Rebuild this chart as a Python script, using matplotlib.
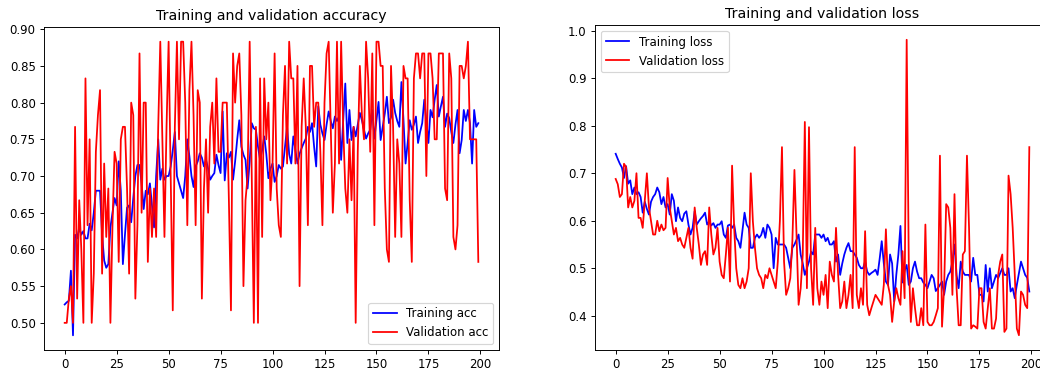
import numpy as np
import matplotlib
matplotlib.use("Agg")
import matplotlib.pyplot as plt

# Historique d'entrainement (200 epochs)
acc = [
    0.525, 0.528, 0.530, 0.571, 0.483, 0.620, 0.615, 0.630, 0.620, 0.625,
    0.615, 0.615, 0.635, 0.626, 0.650, 0.680, 0.680, 0.680, 0.620, 0.585,
    0.575, 0.580, 0.630, 0.650, 0.670, 0.660, 0.720, 0.680, 0.580, 0.620,
    0.657, 0.660, 0.637, 0.670, 0.700, 0.715, 0.715, 0.690, 0.655, 0.680,
    0.675, 0.690, 0.660, 0.630, 0.700, 0.750, 0.695, 0.710, 0.695, 0.700,
    0.700, 0.713, 0.735, 0.760, 0.700, 0.690, 0.680, 0.670, 0.700, 0.750,
    0.727, 0.700, 0.685, 0.713, 0.720, 0.731, 0.725, 0.713, 0.722, 0.710,
    0.695, 0.700, 0.704, 0.729, 0.715, 0.704, 0.788, 0.694, 0.731, 0.725,
    0.733, 0.695, 0.720, 0.750, 0.776, 0.740, 0.729, 0.722, 0.683, 0.720,
    0.772, 0.765, 0.763, 0.740, 0.722, 0.735, 0.754, 0.730, 0.697, 0.710,
    0.717, 0.692, 0.700, 0.715, 0.710, 0.713, 0.740, 0.767, 0.730, 0.717,
    0.754, 0.735, 0.717, 0.730, 0.738, 0.745, 0.751, 0.767, 0.760, 0.772,
    0.740, 0.713, 0.795, 0.770, 0.758, 0.749, 0.770, 0.788, 0.775, 0.765,
    0.781, 0.775, 0.781, 0.722, 0.776, 0.826, 0.745, 0.790, 0.749, 0.767,
    0.754, 0.770, 0.786, 0.776, 0.763, 0.751, 0.758, 0.763, 0.790, 0.751,
    0.776, 0.801, 0.749, 0.767, 0.785, 0.808, 0.772, 0.780, 0.804, 0.786,
    0.775, 0.767, 0.828, 0.776, 0.717, 0.745, 0.776, 0.763, 0.770, 0.781,
    0.745, 0.760, 0.772, 0.804, 0.775, 0.745, 0.790, 0.780, 0.804, 0.824,
    0.781, 0.795, 0.808, 0.767, 0.785, 0.779, 0.760, 0.745, 0.770, 0.790,
    0.731, 0.749, 0.790, 0.775, 0.790, 0.772, 0.717, 0.790, 0.767, 0.772,
]

val_acc = [
    0.500, 0.500, 0.533, 0.550, 0.500, 0.767, 0.533, 0.667, 0.600, 0.500,
    0.833, 0.633, 0.750, 0.500, 0.567, 0.733, 0.783, 0.817, 0.567, 0.717,
    0.617, 0.683, 0.500, 0.633, 0.733, 0.717, 0.583, 0.750, 0.767, 0.767,
    0.683, 0.567, 0.800, 0.783, 0.533, 0.633, 0.867, 0.650, 0.800, 0.800,
    0.583, 0.683, 0.617, 0.683, 0.617, 0.767, 0.883, 0.750, 0.617, 0.767,
    0.883, 0.700, 0.517, 0.767, 0.883, 0.750, 0.883, 0.883, 0.800, 0.633,
    0.817, 0.883, 0.783, 0.633, 0.817, 0.800, 0.533, 0.683, 0.750, 0.650,
    0.767, 0.800, 0.717, 0.833, 0.733, 0.733, 0.800, 0.800, 0.800, 0.667,
    0.517, 0.867, 0.800, 0.850, 0.867, 0.783, 0.550, 0.667, 0.700, 0.883,
    0.700, 0.500, 0.767, 0.500, 0.833, 0.617, 0.833, 0.750, 0.800, 0.667,
    0.717, 0.867, 0.683, 0.633, 0.617, 0.783, 0.850, 0.717, 0.883, 0.833,
    0.833, 0.717, 0.850, 0.550, 0.767, 0.833, 0.767, 0.633, 0.850, 0.850,
    0.767, 0.800, 0.800, 0.733, 0.633, 0.800, 0.867, 0.883, 0.767, 0.650,
    0.717, 0.883, 0.717, 0.883, 0.767, 0.683, 0.650, 0.750, 0.667, 0.767,
    0.500, 0.733, 0.850, 0.783, 0.750, 0.883, 0.833, 0.733, 0.867, 0.633,
    0.883, 0.883, 0.850, 0.850, 0.683, 0.600, 0.583, 0.850, 0.767, 0.617,
    0.750, 0.717, 0.617, 0.850, 0.833, 0.833, 0.667, 0.583, 0.833, 0.867,
    0.867, 0.833, 0.867, 0.867, 0.700, 0.867, 0.867, 0.833, 0.750, 0.750,
    0.867, 0.867, 0.867, 0.683, 0.667, 0.867, 0.833, 0.617, 0.600, 0.633,
    0.850, 0.850, 0.833, 0.850, 0.883, 0.750, 0.750, 0.750, 0.750, 0.583,
]

loss = [
    0.741, 0.730, 0.720, 0.712, 0.690, 0.715, 0.678, 0.685, 0.656, 0.670,
    0.656, 0.660, 0.650, 0.617, 0.640, 0.625, 0.613, 0.640, 0.650, 0.656,
    0.670, 0.660, 0.635, 0.650, 0.628, 0.635, 0.613, 0.656, 0.642, 0.599,
    0.628, 0.606, 0.599, 0.615, 0.620, 0.592, 0.571, 0.585, 0.620, 0.592,
    0.599, 0.605, 0.610, 0.617, 0.592, 0.599, 0.590, 0.595, 0.585, 0.592,
    0.592, 0.599, 0.571, 0.564, 0.590, 0.592, 0.585, 0.592, 0.564, 0.557,
    0.543, 0.580, 0.617, 0.592, 0.585, 0.543, 0.543, 0.564, 0.571, 0.564,
    0.570, 0.585, 0.564, 0.592, 0.585, 0.571, 0.500, 0.564, 0.550, 0.550,
    0.550, 0.550, 0.543, 0.522, 0.500, 0.543, 0.550, 0.560, 0.571, 0.529,
    0.510, 0.486, 0.500, 0.514, 0.535, 0.529, 0.571, 0.571, 0.571, 0.564,
    0.571, 0.557, 0.564, 0.550, 0.550, 0.557, 0.514, 0.529, 0.486, 0.510,
    0.529, 0.543, 0.553, 0.536, 0.536, 0.529, 0.522, 0.507, 0.500, 0.500,
    0.514, 0.493, 0.486, 0.490, 0.493, 0.497, 0.486, 0.520, 0.557, 0.510,
    0.472, 0.465, 0.529, 0.510, 0.430, 0.486, 0.529, 0.589, 0.470, 0.495,
    0.507, 0.465, 0.472, 0.500, 0.514, 0.493, 0.479, 0.479, 0.470, 0.465,
    0.458, 0.472, 0.486, 0.479, 0.452, 0.458, 0.465, 0.472, 0.444, 0.472,
    0.486, 0.493, 0.514, 0.550, 0.486, 0.458, 0.514, 0.493, 0.486, 0.486,
    0.486, 0.472, 0.522, 0.486, 0.486, 0.444, 0.444, 0.430, 0.507, 0.451,
    0.500, 0.458, 0.472, 0.486, 0.479, 0.490, 0.500, 0.486, 0.486, 0.500,
    0.451, 0.458, 0.437, 0.465, 0.490, 0.514, 0.500, 0.486, 0.480, 0.451,
]

val_loss = [
    0.688, 0.677, 0.650, 0.656, 0.720, 0.713, 0.628, 0.650, 0.628, 0.642,
    0.700, 0.606, 0.606, 0.585, 0.642, 0.700, 0.628, 0.600, 0.571, 0.571,
    0.600, 0.578, 0.592, 0.580, 0.585, 0.690, 0.628, 0.599, 0.571, 0.585,
    0.557, 0.564, 0.550, 0.543, 0.564, 0.585, 0.543, 0.520, 0.628, 0.585,
    0.550, 0.507, 0.529, 0.536, 0.507, 0.628, 0.571, 0.529, 0.543, 0.585,
    0.514, 0.486, 0.479, 0.529, 0.585, 0.472, 0.716, 0.585, 0.500, 0.465,
    0.458, 0.479, 0.458, 0.472, 0.500, 0.700, 0.599, 0.543, 0.500, 0.486,
    0.479, 0.458, 0.486, 0.479, 0.500, 0.486, 0.472, 0.458, 0.514, 0.600,
    0.755, 0.514, 0.444, 0.458, 0.479, 0.557, 0.707, 0.571, 0.423, 0.458,
    0.529, 0.808, 0.458, 0.797, 0.500, 0.423, 0.585, 0.458, 0.423, 0.472,
    0.444, 0.486, 0.416, 0.514, 0.486, 0.472, 0.585, 0.486, 0.416, 0.430,
    0.472, 0.416, 0.444, 0.486, 0.416, 0.755, 0.444, 0.416, 0.458, 0.423,
    0.578, 0.423, 0.401, 0.416, 0.430, 0.444, 0.437, 0.430, 0.423, 0.465,
    0.582, 0.465, 0.444, 0.387, 0.430, 0.458, 0.437, 0.423, 0.536, 0.437,
    0.981, 0.514, 0.387, 0.458, 0.416, 0.380, 0.380, 0.416, 0.380, 0.592,
    0.387, 0.380, 0.380, 0.387, 0.401, 0.416, 0.737, 0.377, 0.458, 0.635,
    0.628, 0.585, 0.444, 0.656, 0.458, 0.380, 0.380, 0.529, 0.536, 0.737,
    0.585, 0.373, 0.380, 0.377, 0.373, 0.458, 0.458, 0.387, 0.373, 0.416,
    0.458, 0.373, 0.373, 0.394, 0.486, 0.514, 0.529, 0.366, 0.373, 0.695,
    0.656, 0.585, 0.486, 0.373, 0.359, 0.451, 0.444, 0.423, 0.416, 0.755,
]

epochs = range(len(acc))

fig = plt.figure(figsize=(1040 / 85, 375 / 85), dpi=85)

# Precision
ax1 = fig.add_axes([44 / 1040, 25 / 375, 455 / 1040, 323 / 375])
ax1.plot(epochs, acc, 'b', label='Training acc')
ax1.plot(epochs, val_acc, 'r', label='Validation acc')
ax1.set_title('Training and validation accuracy')
ax1.legend(loc='lower right')

# Perte
ax2 = fig.add_axes([595 / 1040, 25 / 375, 455 / 1040, 325 / 375])
ax2.plot(epochs, loss, 'b', label='Training loss')
ax2.plot(epochs, val_loss, 'r', label='Validation loss')
ax2.set_title('Training and validation loss')
ax2.legend(loc='upper left')

fig.savefig('out.png', dpi=85)
